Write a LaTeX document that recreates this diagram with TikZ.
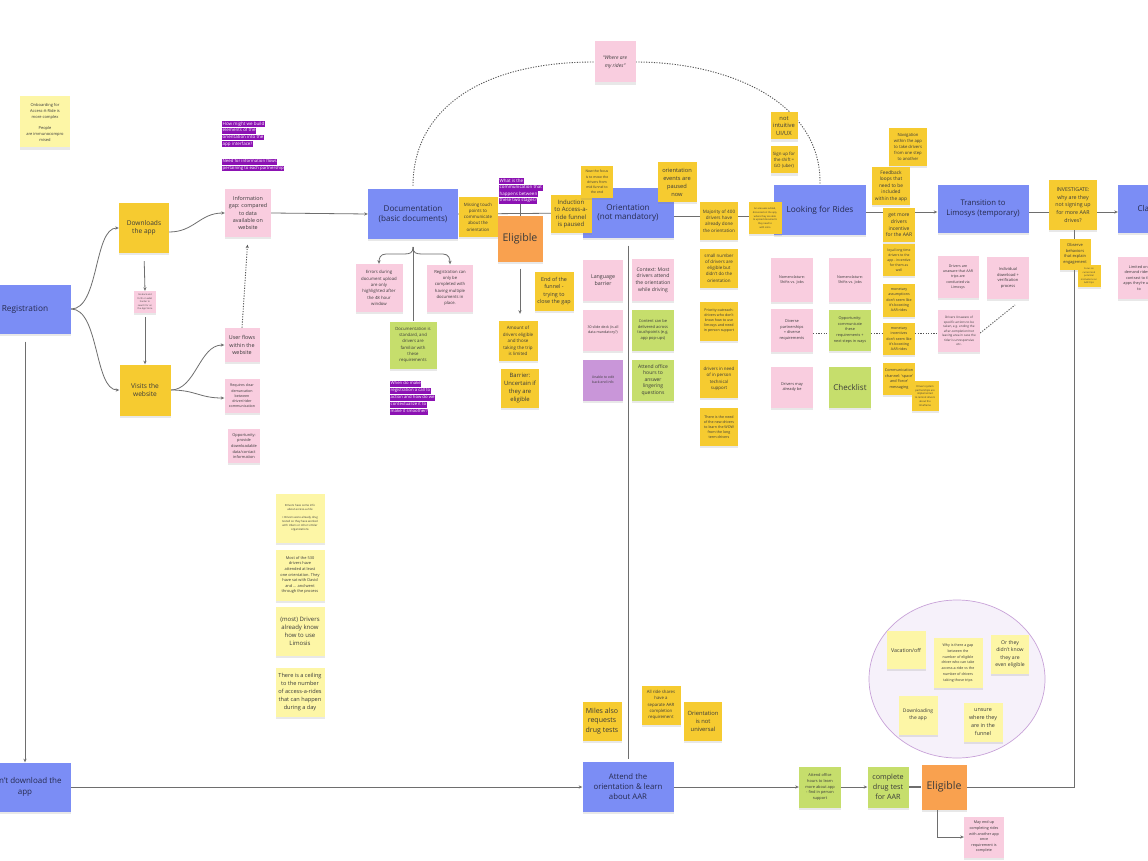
\documentclass[tikz,border=0pt]{standalone}
\usepackage{fontspec}
\setmainfont{Open Sans}
\usetikzlibrary{shadows,arrows.meta,shapes.geometric}
\definecolor{cblue}{HTML}{7B8DF5}
\definecolor{cbtxt}{HTML}{262B4F}
\definecolor{cyel}{HTML}{F6CB30}
\definecolor{cpale}{HTML}{FDF6A6}
\definecolor{cpink}{HTML}{F9CDDF}
\definecolor{cgreen}{HTML}{C6DE6C}
\definecolor{corange}{HTML}{F9A14F}
\definecolor{cpurps}{HTML}{C996D9}
\definecolor{cpurp}{HTML}{8C12B3}
\definecolor{ctxt}{HTML}{3A3A3A}
\definecolor{cline}{HTML}{6E6E6E}
\definecolor{cdark}{HTML}{555555}
\definecolor{ccirc}{HTML}{C8A2D8}
\definecolor{ccircf}{HTML}{F6F1FA}
\pgfdeclarelayer{bg}
\pgfsetlayers{bg,main}
\newcommand\hlp[1]{{\setlength{\fboxsep}{0.5pt}\colorbox{cpurp}{\rule[-0.3em]{0pt}{1.05em}#1}}}
\tikzset{
 nt/.style={rectangle, inner sep=1pt, align=center, text=ctxt, drop shadow={shadow xshift=0pt, shadow yshift=-2.2pt, opacity=0.18}},
 sBlue/.style={nt, fill=cblue, text=cbtxt},
 sYel/.style={nt, fill=cyel},
 sPale/.style={nt, fill=cpale},
 sPink/.style={nt, fill=cpink},
 sGreen/.style={nt, fill=cgreen},
 sOrange/.style={nt, fill=corange},
 sPurp/.style={nt, fill=cpurps},
 wh/.style 2 args={minimum width=#1pt, minimum height=#2pt},
 fs/.style 2 args={font=\fontsize{#1}{#2}\selectfont},
 hl/.style={inner sep=0pt, align=left, text=white, font=\fontsize{4.4}{6.8}\selectfont},
 con/.style={draw=cline, line width=0.8pt},
 arr/.style={con, -{Stealth[length=3.6pt,width=3.2pt]}},
 dline/.style={draw=cdark, line width=0.9pt, dash pattern=on 1.2pt off 1.4pt},
}
\begin{document}
\begin{tikzpicture}[x=1pt,y=-1pt]
\begin{pgfonlayer}{bg}
\fill[white] (0,0) rectangle (1148,861);
\end{pgfonlayer}
\path[use as bounding box] (0,0) rectangle (1148,861);
\clip (0,0) rectangle (1148,861);

% group circle
\node[ellipse, draw=ccirc, fill=ccircf, line width=0.7pt, minimum width=176pt, minimum height=158pt, inner sep=0pt] (grp) at (957,679) {};

% left column
\node[sPale, wh={50}{51}, fs={4}{6}] (onb) at (45,122) {Onboarding for\\Access-A-Ride is\\more complex\\[5pt]People\\are immunocompro\\mised};
\node[hl, anchor=north west, fs={4.5}{6.7}] (pur1) at (222,121) {\hlp{How might we build}\\\hlp{elements of the}\\\hlp{orientation into the}\\\hlp{app interface?}};
\node[hl, anchor=north west, fs={4.3}{6.7}] (pur2) at (222,159) {\hlp{Need for information flows}\\\hlp{pertaining to each partnership}};
\node[sPink, wh={46}{47}, fs={5.4}{7.3}] (info) at (248,213) {Information\\gap: compared\\to data\\available on\\website};
\node[sYel, wh={50}{50}, fs={6.6}{8.2}] (dl) at (144,228) {Downloads\\the app};
\node[sPink, wh={22}{22}, fs={2.3}{3.5}] (gob) at (145,302) {Go back and\\forth on what\\harder to\\search for on\\the App Store};
\node[sYel, wh={51}{51}, fs={6.6}{8.2}] (vis) at (145,390) {Visits the\\website};
\node[sPink, wh={35}{34}, fs={5.4}{7.2}] (uf) at (242,345) {User flows\\within the\\website};
\node[sPink, wh={35}{34}, fs={3.6}{5.2}] (req) at (242,396) {Requires clear\\demarcation\\between\\driver/rider\\communication};
\node[sPink, wh={32}{34}, fs={3.9}{5.6}] (opa) at (244,446) {Opportunity:\\provide\\downloadable\\data/contact\\information};
\node[sBlue, wh={92}{49}, fs={8.3}{10}] (reg) at (25,309) {Registration};
\node[sBlue, wh={92}{49}, fs={8}{10.5}] (dont) at (25,787) {Don't download the\\app};

% documentation
\node[sBlue, wh={90}{50}, fs={8.1}{9.8}] (doc) at (413,214) {Documentation\\(basic documents)};
\node[sYel, wh={39}{40}, fs={4.4}{6.2}] (miss) at (478,217) {Missing touch\\points to\\communicate\\about the\\orientation};
\node[hl, anchor=north west, fs={4.5}{6.6}] (pur3) at (499,178) {\hlp{What is the}\\\hlp{communication that}\\\hlp{happens between}\\\hlp{these two stages?}};
\node[sOrange, wh={45}{45}, fs={10.6}{12}] (elig) at (520,239) {Eligible};
\node[sPink, wh={47}{48}, fs={4.3}{6.3}] (err) at (379,288) {Errors during\\document upload\\are only\\highlighted after\\the 48 hour\\window};
\node[sPink, wh={46}{47}, fs={4.2}{6.3}] (regc) at (450,288) {Registration can\\only be\\completed with\\having multiple\\documents in\\place.};
\node[sGreen, wh={47}{47}, fs={4.3}{6.3}] (dstd) at (413,345) {Documentation is\\standard, and\\drivers are\\familiar with\\these\\requirements};
\node[hl, anchor=north west, fs={4.3}{7}] (pur4) at (390,381) {\hlp{When do make}\\\hlp{registration a call to}\\\hlp{action and how do we}\\\hlp{contextualize it to}\\\hlp{make it smoother?}};
\node[sYel, wh={39}{39}, fs={5.4}{7.2}] (endf) at (554,291) {End of the\\funnel -\\trying to\\close the gap};
\node[sYel, wh={39}{40}, fs={4.5}{6.4}] (amt) at (518,341) {Amount of\\drivers eligible\\and those\\taking the trip\\is limited};
\node[sYel, wh={38}{39}, fs={5.9}{7.7}] (barr) at (520,388) {Barrier:\\Uncertain if\\they are\\eligible};

% orientation
\node[sBlue, wh={91}{49}, fs={8.1}{9.8}] (orient) at (628,213) {Orientation\\(not mandatory)};
\node[sYel, wh={41}{38}, fs={6}{7.6}] (ind) at (571,214) {Induction\\to Access-a-\\ride funnel\\is paused};
\node[sYel, wh={32}{32}, fs={3.4}{5.2}] (nowf) at (597,182) {Now the focus\\is to move the\\drivers from\\mid funnel to\\the end};
\node[sYel, wh={39}{40}, fs={5.7}{8}] (evp) at (677,182) {orientation\\events are\\paused\\now};
\node[sPink, wh={40}{41}, fs={5.3}{7.2}] (lang) at (603,280) {Language\\barrier};
\node[sPink, wh={40}{41}, fs={3.6}{5.6}] (slide) at (603,330) {30 slide deck (is all\\data mandatory?)};
\node[sPurp, wh={40}{41}, fs={3.4}{5.3}] (unab) at (603,380) {Unable to edit\\back-end info};
\node[sPink, wh={42}{42}, fs={5}{6.8}] (ctx) at (653,280) {Context: Most\\drivers attend\\the orientation\\while driving};
\node[sGreen, wh={42}{41}, fs={4}{5.5}] (cont) at (653,330) {Content can be\\delivered across\\touchpoints (e.g.\\app pop-ups)};
\node[sGreen, wh={42}{41}, fs={5}{6.6}] (aoh) at (653,380) {Attend office\\hours to\\answer\\lingering\\questions};
\node[sYel, wh={38}{38}, fs={4.6}{6.4}] (maj) at (719,221) {Majority of 400\\drivers have\\already done\\the orientation};
\node[sYel, wh={38}{39}, fs={4.5}{6.2}] (smn) at (719,268) {small number\\of drivers are\\eligible but\\didn't do the\\orientation};
\node[sYel, wh={38}{39}, fs={3.6}{5}] (prio) at (719,321) {Priority outreach:\\drivers who don't\\know how to use\\limosys and need\\in person support};
\node[sYel, wh={38}{38}, fs={4.4}{6.4}] (dneed) at (719,379) {drivers in need\\of in person\\technical\\support};
\node[sYel, wh={38}{38}, fs={3.6}{5}] (tneed) at (719,427) {There is the need\\of the new drivers\\to learn the WOW\\from the long\\term drivers};

% looking for rides
\node[sPink, wh={41}{41}, font=\fontsize{5}{7.5}\selectfont\itshape] (where) at (615,62) {“Where are\\my rides”};
\node[sBlue, wh={92}{50}, fs={8.3}{10}] (lfr) at (820,210) {Looking for Rides};
\node[sYel, wh={33}{31}, fs={2.4}{3.7}] (arad) at (765,218) {An area was added,\\discussed on the app,\\where they are able\\to upload documents\\they need to\\with Limo};
\node[sYel, wh={27}{27}, fs={5.8}{7.6}] (nint) at (784,126) {not\\intuitive\\UI/UX};
\node[sYel, wh={27}{27}, fs={4.4}{5.8}] (sign) at (784,160) {Sign up for\\the shift =\\GO (uber)};
\node[sYel, wh={38}{38}, fs={4.2}{6.2}] (nav) at (908,147) {Navigation\\within the app\\to take drivers\\from one step\\to another};
\node[sYel, wh={38}{38}, fs={4.8}{6.4}] (feed) at (891,186) {Feedback\\loops that\\need to be\\included\\within the app};
\node[sYel, wh={32}{34}, fs={5}{6.8}] (getm) at (899,225) {get more\\drivers\\incentive\\for the AAR};
\node[sYel, wh={32}{32}, fs={3.4}{4.9}] (loyal) at (899,260) {loyal long time\\drivers to the\\app - incentive\\for them as\\well};
\node[sYel, wh={32}{33}, fs={3.6}{5.2}] (mona) at (899,300) {monetary\\assumptions\\don't seem like\\it's boosting\\AAR rides};
\node[sYel, wh={32}{32}, fs={3.6}{5.2}] (moni) at (899,339) {monetary\\incentives\\don't seem like\\it's boosting\\AAR rides};
\node[sYel, wh={32}{32}, fs={3.8}{5.8}] (comm) at (899,379) {Communication\\channel: `space'\\and `force'\\messaging};
\node[sYel, wh={27}{30}, fs={2.5}{3.9}] (dsys) at (925,396) {Drivers system\\partnerships are\\implemented\\to remind drivers\\about the\\timeframe};
\node[sPink, wh={42}{44}, fs={3.7}{5.8}] (nom1) at (792,280) {Nomenclature:\\Shifts vs. Jobs};
\node[sPink, wh={42}{44}, fs={3.7}{5.8}] (nom2) at (850,280) {Nomenclature:\\Shifts vs. Jobs};
\node[sPink, wh={42}{43}, fs={3.9}{5.8}] (div) at (792,330) {Diverse\\partnerships\\= diverse\\requirements};
\node[sGreen, wh={42}{41}, fs={3.8}{5.6}] (opb) at (850,330) {Opportunity:\\communicate\\these\\requirements +\\next steps in ways};
\node[sPink, wh={42}{41}, fs={3.9}{5.8}] (dmay) at (792,387) {Drivers may\\already be};
\node[sGreen, wh={42}{41}, fs={8}{9}] (chk) at (850,387) {Checklist};

% transition
\node[sBlue, wh={91}{48}, fs={7.7}{10}] (trans) at (983,209) {Transition to\\Limosys (temporary)};
\node[sPink, wh={41}{42}, fs={3.6}{5.4}] (dua) at (958,277) {Drivers are\\unaware that AAR\\trips are\\conducted via\\Limosys};
\node[sPink, wh={42}{42}, fs={4}{5.7}] (indv) at (1008,278) {Individual\\download +\\verification\\process};
\node[sPink, wh={42}{42}, fs={3.1}{4.5}] (duas) at (959,331) {Drivers Unaware of\\specific actions to be\\taken, e.g. ending the\\after-completion/not\\leaving area in case the\\rider is unresponsive\\etc.};
\node[sYel, wh={48}{49}, fs={5.3}{7.6}] (inv) at (1073,205) {INVESTIGATE:\\why are they\\not signing up\\for more AAR\\drives?};
\node[sBlue, wh={92}{48}, fs={8}{10}] (claim) at (1164,209) {Claiming rides};
\node[sYel, wh={31}{31}, fs={4}{5.9}] (obs) at (1075,254) {Observe\\behaviors\\that explain\\engagement};
\node[sYel, wh={23}{22}, fs={2.3}{3.5}] (focs) at (1089,276) {Focus on\\current and\\potential\\motivations on\\AAR trips};
\node[sPink, wh={42}{42}, fs={3.8}{5.5}] (lim) at (1139,278) {Limited on-\\demand rides in\\contrast to the\\apps they're used\\to};

% lower left notes
\node[sPale, wh={49}{49}, fs={2.8}{4.2}] (p1) at (300,518) {Drivers have some info\\about access-a-ride\\[3.5pt]+ Drivers were already drug\\tested so they have worked\\with Ubers or other similar\\organizations};
\node[sPale, wh={49}{51}, fs={3.9}{5.6}] (p2) at (300,575) {Most of the 530\\drivers have\\attended at least\\one orientation. They\\have sat with David\\and ... and went\\through the process};
\node[sPale, wh={49}{49}, fs={6}{8}] (p3) at (300,631) {(most) Drivers\\already know\\how to use\\Limosis};
\node[sPale, wh={49}{49}, fs={5.6}{7.8}] (p4) at (300,692) {There is a ceiling\\to the number\\of access-a-rides\\that can happen\\during a day};

% bottom row
\node[sYel, wh={39}{39}, fs={7}{9.2}] (miles) at (602,721) {Miles also\\requests\\drug tests};
\node[sYel, wh={39}{39}, fs={4.3}{6.2}] (allr) at (661,705) {All ride shares\\have a\\separate AAR\\completion\\requirement};
\node[sYel, wh={38}{39}, fs={5.8}{8}] (onu) at (703,721) {Orientation\\is not\\universal};
\node[sBlue, wh={91}{50}, fs={7.8}{10}] (att) at (628,787) {Attend the\\orientation \& learn\\about AAR};
\node[sGreen, wh={42}{41}, fs={3.9}{5.9}] (ofh) at (820,787) {Attend office\\hours to learn\\more about app\\- find in person\\support};
\node[sGreen, wh={41}{41}, fs={7.2}{10.2}] (cdt) at (888,787) {complete\\drug test\\for AAR};
\node[sOrange, wh={45}{45}, fs={10.6}{12}] (elig2) at (944,787) {Eligible};
\node[sPink, wh={40}{41}, fs={3.7}{5.6}] (mend) at (984,837) {May end up\\completing rides\\with another app\\once\\requirement is\\complete};

% circle notes
\node[sPale, wh={39}{38}, fs={5.3}{7}] (vac) at (906,650) {Vacation/off};
\node[sPale, wh={49}{50}, fs={3.6}{5.9}] (why) at (958,663) {Why is there a gap\\between the\\number of eligible\\driver who can take\\access-a-ride vs the\\number of drivers\\taking those trips};
\node[sPale, wh={38}{39}, fs={5.1}{7.4}] (orth) at (1010,654) {Or they\\didn't know\\they are\\even eligible};
\node[sPale, wh={39}{39}, fs={4.9}{7}] (dwn) at (918,715) {Downloading\\the app};
\node[sPale, wh={39}{39}, fs={5.4}{7.8}] (uns) at (983,722) {unsure\\where they\\are in the\\funnel};

\coordinate (bt) at (413,247);
\coordinate (dend) at (1015,305);

\begin{pgfonlayer}{bg}
\draw[arr] (reg.east) .. controls +(28,0) and +(-25,0) .. (dl.west);
\draw[arr] (reg.east) .. controls +(28,0) and +(-25,0) .. (vis.west);
\draw[arr] ([yshift=-4pt]dl.east) .. controls +(25,0) and +(-25,0) .. (info.west);
\draw[arr, shorten <=8pt] (dl.south) -- (gob.north);
\draw[arr, shorten <=4pt] (gob.south) -- (vis.north);
\draw[arr] (vis.east) .. controls +(25,0) and +(-25,0) .. (uf.west);
\draw[arr] (vis.east) .. controls +(25,0) and +(-25,0) .. ([yshift=-2pt]req.west);
\draw[dline, -{Stealth[length=3.4pt,width=3pt]}, shorten >=8pt] (uf.north) -- (info.south);
\draw[arr] (info.east) -- (doc.west);
\draw[con] (doc.east) -- (orient.west);
\draw[con] ([yshift=-3pt]orient.east) -- ([yshift=-6pt]lfr.west);
\draw[arr] ([yshift=-2pt]lfr.east) -- ([yshift=-3pt]trans.west);
\draw[con] ([yshift=-3pt]trans.east) -- ([yshift=-7pt]inv.west);
\draw[arr] ([yshift=-7pt]inv.east) -- ([yshift=-3pt]claim.west);
\draw[arr] (bt) .. controls +(0,6) and +(6,0) .. (404,254) -- (386,254) .. controls +(-6,0) and +(0,-5) .. (err.north);
\draw[arr] (bt) .. controls +(0,6) and +(-6,0) .. (422,254) -- (443,254) .. controls +(6,0) and +(0,-5) .. (regc.north);
\draw[con] (bt) -- (dstd.north);
\draw[con] (elig.north |- pur3.south) -- (elig.north);
\draw[arr, shorten <=7pt, shorten >=7pt] (elig.south) -- (elig.south |- amt.north);
\draw[con, shorten <=8pt, shorten >=3pt] (orient.south) -- (att.north);
\draw[arr, shorten <=8pt] (reg.south) -- (dont.north);
\draw[arr] (dont.east) -- (att.west);
\draw[arr] (att.east) -- (ofh.west);
\draw[arr] (ofh.east) -- (cdt.west);
\draw[con, line width=1.2pt] (cdt.east) -- (elig2.west);
\draw[con] (elig2.east) -| ([xshift=1pt]inv.south);
\draw[arr] ([xshift=-7pt]elig2.south) |- (mend.west);
\draw[dline] ([yshift=-3pt]div.east) -- ([yshift=-3pt]opb.west);
\draw[dline] ([yshift=-3pt]opb.east) -- ([yshift=6pt]moni.west);
\draw[dline] ([yshift=6pt]moni.east) -- ([yshift=-2pt]duas.west);
\draw[dline] ([yshift=-2pt]duas.east) -- (dend);
\draw[dline, shorten <=3pt] (doc.north) .. controls (413,110) and (480,62) .. (where.west);
\draw[dline] (where.east) .. controls (725,62) and (822,100) .. (lfr.north);
\end{pgfonlayer}
\end{tikzpicture}
\end{document}
